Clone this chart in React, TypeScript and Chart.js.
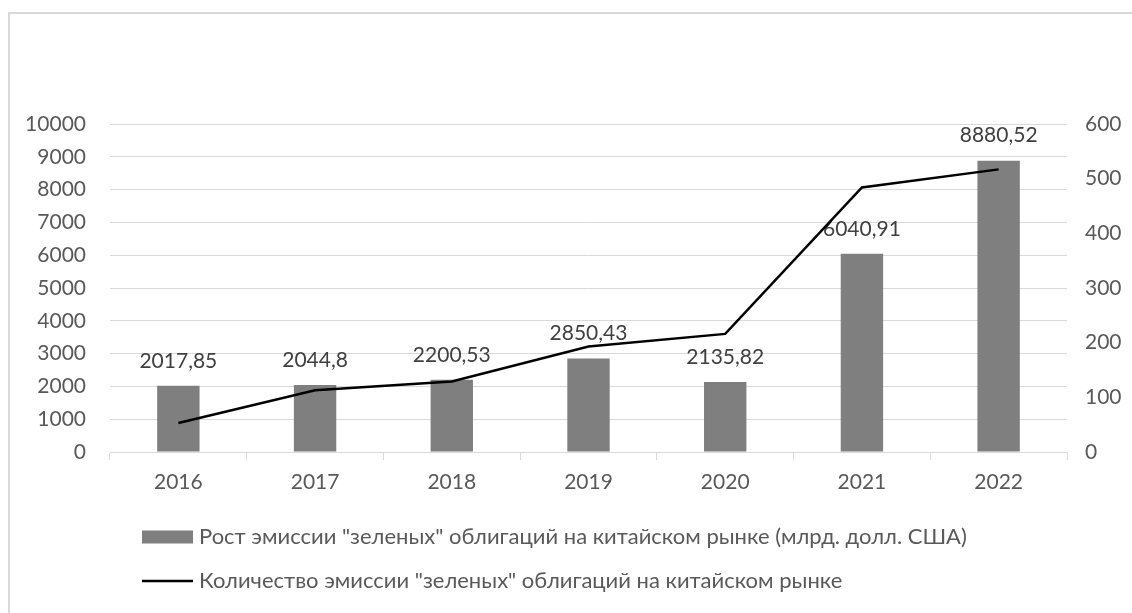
import React, { useEffect, useRef } from 'react';
import { Chart, registerables } from 'chart.js';

Chart.register(...registerables);

const categories = ['2016', '2017', '2018', '2019', '2020', '2021', '2022'];
const issuanceVolume = [2017.85, 2044.8, 2200.53, 2850.43, 2135.82, 6040.91, 8880.52];
const issuanceCount = [53, 113, 129, 193, 216, 484, 517];
const leftAxisMax = 10000;
const leftAxisStep = 1000;
const rightAxisMax = 600;
const rightAxisStep = 100;
const barLabel = 'Рост эмиссии "зеленых" облигаций на китайском рынке (млрд. долл. США)';
const lineLabel = 'Количество эмиссии "зеленых" облигаций на китайском рынке';

const FONT = 'Lato';
const TICK_COLOR = '#595959';
const LABEL_COLOR = '#404040';
const GRID_COLOR = '#d9d9d9';
const BAR_COLOR = '#7f7f7f';
const LINE_COLOR = '#000000';

const formatValue = (v: number) => String(v).replace('.', ',');

const barLabelsPlugin = {
  id: 'barLabels',
  afterDatasetDraw(chart: any, args: any) {
    if (args.index !== 0) return;
    const ctx = chart.ctx;
    const meta = chart.getDatasetMeta(0);
    ctx.save();
    ctx.font = `21px ${FONT}`;
    ctx.fillStyle = LABEL_COLOR;
    ctx.textAlign = 'center';
    ctx.textBaseline = 'middle';
    meta.data.forEach((el: any, i: number) => {
      const v = chart.data.datasets[0].data[i];
      ctx.fillText(formatValue(v), el.x, el.y - 25);
    });
    ctx.restore();
  },
};

const legendPlugin = {
  id: 'customLegend',
  afterDraw(chart: any) {
    const ctx = chart.ctx;
    const ds = chart.data.datasets;
    const boxLeft = 142;
    const boxW = 51;
    const textX = 199;
    const rows = [537, 581];
    ctx.save();
    ctx.font = `22px ${FONT}`;
    ctx.textAlign = 'left';
    ctx.textBaseline = 'middle';
    ctx.fillStyle = ds[0].backgroundColor;
    ctx.fillRect(boxLeft, rows[0] - 6.5, boxW, 13);
    ctx.fillStyle = TICK_COLOR;
    ctx.fillText(ds[0].label, textX, rows[0]);
    ctx.strokeStyle = ds[1].borderColor;
    ctx.lineWidth = 2.5;
    ctx.beginPath();
    ctx.moveTo(boxLeft, rows[1]);
    ctx.lineTo(boxLeft + boxW, rows[1]);
    ctx.stroke();
    ctx.fillText(ds[1].label, textX, rows[1]);
    ctx.restore();
  },
};

export default function App() {
  const canvasRef = useRef<HTMLCanvasElement | null>(null);

  useEffect(() => {
    if (!canvasRef.current) return;
    const chart = new Chart(canvasRef.current, {
      type: 'bar',
      data: {
        labels: categories,
        datasets: [
          {
            type: 'bar',
            label: barLabel,
            data: issuanceVolume,
            backgroundColor: BAR_COLOR,
            yAxisID: 'y',
            order: 1,
            categoryPercentage: 1,
            barPercentage: 0.31,
          },
          {
            type: 'line',
            label: lineLabel,
            data: issuanceCount,
            borderColor: LINE_COLOR,
            backgroundColor: LINE_COLOR,
            borderWidth: 2.5,
            pointRadius: 0,
            tension: 0,
            yAxisID: 'y1',
            order: 0,
          },
        ] as any,
      },
      options: {
        responsive: false,
        animation: false,
        layout: { padding: { top: 124, bottom: 121, left: 0, right: 0 } },
        plugins: {
          legend: { display: false },
          tooltip: { enabled: false },
        },
        scales: {
          x: {
            grid: {
              display: true,
              offset: true,
              drawOnChartArea: false,
              drawTicks: true,
              tickLength: 8,
              color: GRID_COLOR,
            },
            border: { display: true, color: GRID_COLOR, width: 1 },
            ticks: { color: TICK_COLOR, font: { family: FONT, size: 21 }, padding: 10 },
            afterFit: (scale: any) => { scale.height = 40; },
          },
          y: {
            position: 'left',
            min: 0,
            max: leftAxisMax,
            ticks: {
              stepSize: leftAxisStep,
              color: TICK_COLOR,
              font: { family: FONT, size: 21 },
              padding: 24,
              callback: (v: any) => String(v),
            },
            grid: { color: GRID_COLOR, drawTicks: false, lineWidth: 1 },
            border: { display: false },
            afterFit: (scale: any) => { scale.width = 110; },
          },
          y1: {
            position: 'right',
            min: 0,
            max: rightAxisMax,
            ticks: {
              stepSize: rightAxisStep,
              color: TICK_COLOR,
              font: { family: FONT, size: 21 },
              padding: 18,
              callback: (v: any) => String(v),
            },
            grid: { display: false, drawTicks: false },
            border: { display: false },
            afterFit: (scale: any) => { scale.width = 65; },
          },
        },
      } as any,
      plugins: [barLabelsPlugin, legendPlugin],
    });
    return () => chart.destroy();
  }, []);

  return (
    <div style={{ position: 'fixed', left: 0, top: 0, width: 1132, height: 613, overflow: 'hidden', background: '#fff' }}>
      <div
        style={{
          position: 'absolute',
          left: 8,
          top: 12,
          width: 1300,
          height: 800,
          borderLeft: `2px solid ${GRID_COLOR}`,
          borderTop: `2px solid ${GRID_COLOR}`,
        }}
      />
      <canvas
        ref={canvasRef}
        width={1132}
        height={613}
        style={{ position: 'absolute', left: 0, top: 0, width: 1132, height: 613 }}
      />
    </div>
  );
}
